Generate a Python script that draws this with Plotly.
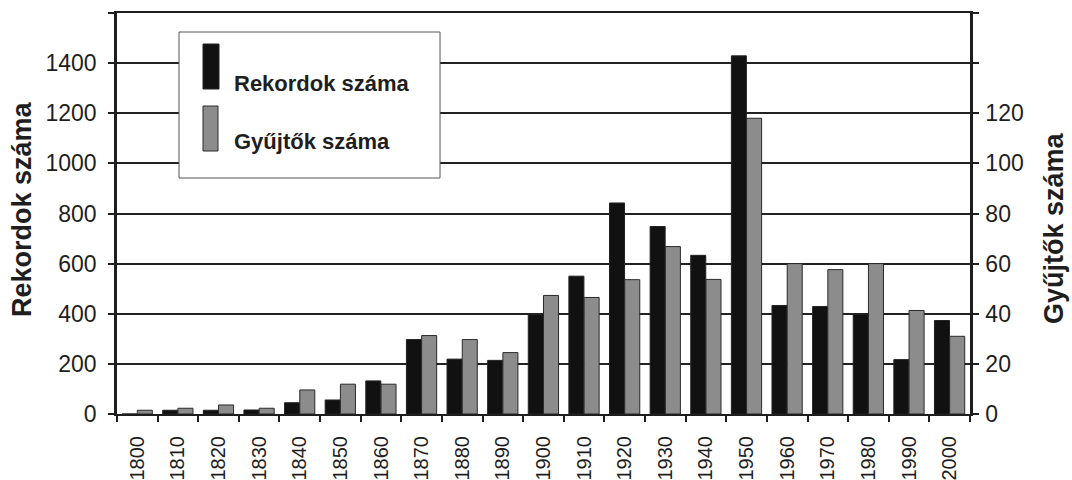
import plotly.graph_objects as go

years = ['1800', '1810', '1820', '1830', '1840', '1850', '1860', '1870', '1880', '1890',
         '1900', '1910', '1920', '1930', '1940', '1950', '1960', '1970', '1980', '1990', '2000']
rekordok = [0, 15, 15, 16, 45, 56, 132, 297, 219, 214, 397, 550, 842, 748, 633, 1429,
            433, 429, 398, 217, 373]
gyujtok = [1.5, 2.3, 3.6, 2.3, 9.6, 11.9, 11.9, 31.3, 29.7, 24.5, 47.3, 46.5, 53.6, 66.8,
           53.7, 118, 60, 57.6, 60, 41.3, 31]

left_ticks = [0, 200, 400, 600, 800, 1000, 1200, 1400, 1600]
left_labels = ['0', '200', '400', '600', '800', '1000', '1200', '1400', '']
right_ticks = [0, 20, 40, 60, 80, 100, 120, 140, 160]
right_labels = ['0', '20', '40', '60', '80', '100', '120', '', '']

name_rek = 'Rekordok száma'
name_gyu = 'Gyűjtők száma'

FONT = 'Liberation Sans, Arial, sans-serif'
INK = '#1e1e1e'
BLACK = '#111111'
GREY = '#8c8c8c'

fig = go.Figure()
fig.add_trace(go.Bar(
    x=years, y=rekordok, name=name_rek, yaxis='y',
    width=0.37, offset=-0.375,
    marker=dict(color=BLACK, line=dict(color='#222222', width=1)),
    showlegend=False,
))
fig.add_trace(go.Bar(
    x=years, y=gyujtok, name=name_gyu, yaxis='y2',
    width=0.37, offset=0.0,
    marker=dict(color=GREY, line=dict(color='#2a2a2a', width=1)),
    showlegend=False,
))

# legend drawn as in the original (tall swatches in a framed box)
shapes = [
    dict(type='rect', xref='paper', yref='paper', x0=0.0727, x1=0.3787, y0=0.5885, y1=0.9526,
         fillcolor='white', line=dict(color='#555555', width=1), layer='above'),
    dict(type='rect', xref='paper', yref='paper', x0=(203 - 117) / 853, x1=(219 - 117) / 853,
         y0=(414 - 89) / 401, y1=(414 - 44) / 401,
         fillcolor=BLACK, line=dict(color='#222222', width=1), layer='above'),
    dict(type='rect', xref='paper', yref='paper', x0=(203 - 117) / 853, x1=(218 - 117) / 853,
         y0=(414 - 151) / 401, y1=(414 - 106) / 401,
         fillcolor=GREY, line=dict(color='#2a2a2a', width=1), layer='above'),
]

annotations = [
    dict(text=f'<b>{name_rek}</b>', xref='paper', yref='paper',
         x=(232 - 117) / 853, y=(414 - 83) / 401, xanchor='left', yanchor='middle',
         showarrow=False, font=dict(family=FONT, size=22, color=INK)),
    dict(text=f'<b>{name_gyu}</b>', xref='paper', yref='paper',
         x=(232 - 117) / 853, y=(414 - 141) / 401, xanchor='left', yanchor='middle',
         showarrow=False, font=dict(family=FONT, size=22, color=INK)),
    dict(text=f'<b>{name_rek}</b>', xref='paper', yref='paper',
         x=(22 - 117) / 853, y=(414 - 209) / 401, xanchor='center', yanchor='middle',
         textangle=-90, showarrow=False, font=dict(family=FONT, size=27, color=INK)),
    dict(text=f'<b>{name_gyu}</b>', xref='paper', yref='paper',
         x=(1054 - 117) / 853, y=(414 - 228) / 401, xanchor='center', yanchor='middle',
         textangle=-90, showarrow=False, font=dict(family=FONT, size=27, color=INK)),
]

fig.update_layout(
    width=1072, height=480,
    margin=dict(l=117, r=102, t=13, b=66, pad=0, autoexpand=False),
    paper_bgcolor='white', plot_bgcolor='white',
    font=dict(family=FONT, color=INK),
    barmode='overlay',
    shapes=shapes,
    annotations=annotations,
    xaxis=dict(
        type='category', range=[-0.5, 20.5], tickson='boundaries',
        ticks='outside', ticklen=6, tickwidth=2, tickcolor=INK,
        tickangle=-90, tickfont=dict(family=FONT, size=20, color=INK),
        ticklabelstandoff=12, automargin=False,
        showline=True, linewidth=2, linecolor=INK, mirror=True,
        showgrid=False, zeroline=False,
    ),
    yaxis=dict(
        range=[0, 1600], tickvals=left_ticks, ticktext=left_labels,
        ticks='outside', ticklen=6, tickwidth=2, tickcolor=INK,
        tickfont=dict(family=FONT, size=23, color=INK),
        ticklabelstandoff=7, automargin=False,
        showline=True, linewidth=2.5, linecolor=INK,
        showgrid=True, gridcolor='#222222', gridwidth=2, zeroline=False,
    ),
    yaxis2=dict(
        overlaying='y', side='right', range=[0, 160],
        tickvals=right_ticks, ticktext=right_labels,
        ticks='outside', ticklen=6, tickwidth=2, tickcolor=INK,
        tickfont=dict(family=FONT, size=23, color=INK),
        ticklabelstandoff=2, automargin=False,
        showline=True, linewidth=2.5, linecolor=INK,
        showgrid=False, zeroline=False,
    ),
)

fig.write_html('out.html', config={'displayModeBar': False},
               post_script="document.body.style.margin='0';")
